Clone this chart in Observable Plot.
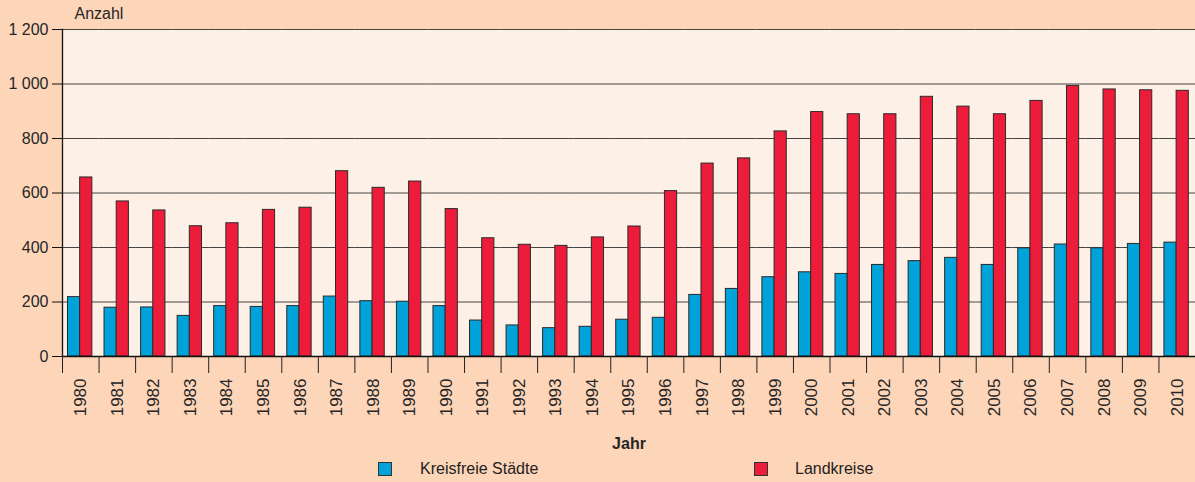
<!DOCTYPE html>
<html>
<head>
<meta charset="utf-8">
<script src="https://cdn.jsdelivr.net/npm/d3@7"></script>
<script src="https://cdn.jsdelivr.net/npm/@observablehq/plot@0.6"></script>
<style>
  html, body { margin: 0; padding: 0; background: #fdd5b9; }
  body { width: 1195px; height: 482px; overflow: hidden; font-family: "Liberation Sans", Arial, sans-serif; }
  #legend { position: relative; height: 27px; width: 1195px; }
  .sw { position: absolute; top: 7px; width: 12px; height: 12px; border: 1px solid #333; }
  .lb { position: absolute; top: 5px; font-size: 16px; line-height: 18px; color: #222; }
</style>
</head>
<body>
<div id="chart"></div>
<div id="legend"></div>
<script>
const years = [1980, 1981, 1982, 1983, 1984, 1985, 1986, 1987, 1988, 1989, 1990,
               1991, 1992, 1993, 1994, 1995, 1996, 1997, 1998, 1999, 2000,
               2001, 2002, 2003, 2004, 2005, 2006, 2007, 2008, 2009, 2010];
const seriesNames = ["Kreisfreie Städte", "Landkreise"];
const kreisfreieStaedte = [218, 179, 180, 149, 185, 182, 185, 220, 203, 201, 185,
                           132, 114, 104, 109, 135, 142, 226, 248, 291, 309,
                           303, 336, 350, 362, 336, 397, 411, 397, 413, 418];
const landkreise = [657, 569, 536, 478, 489, 538, 546, 680, 619, 642, 541,
                    434, 410, 406, 437, 477, 607, 708, 727, 826, 897,
                    889, 889, 953, 917, 889, 938, 993, 980, 977, 975];
const yTicks = [0, 200, 400, 600, 800, 1000, 1200];
const seriesColors = ["#00a3d9", "#ed1c3b"];

const data = [];
years.forEach((yr, i) => {
  data.push({year: yr, series: seriesNames[0], value: kreisfreieStaedte[i]});
  data.push({year: yr, series: seriesNames[1], value: landkreise[i]});
});

const W = 1195, H = 455, mL = 62, mR = 0, mT = 29, mB = 99;
const halfBand = (W - mL - mR) / years.length / 2;
const fmtY = d => d3.format(",")(d).replace(/,/g, " ");

const chart = Plot.plot({
  width: W, height: H,
  marginLeft: mL, marginRight: mR, marginTop: mT, marginBottom: mB,
  style: {background: "transparent", fontFamily: "Liberation Sans, Arial, sans-serif", fontSize: "15px", color: "#262626"},
  fx: {domain: years, paddingInner: 0, paddingOuter: 0, round: false, label: null},
  x: {domain: seriesNames, paddingInner: 0, paddingOuter: 0.5, align: 0.45, round: false, axis: null},
  y: {domain: [0, 1200], label: null},
  color: {domain: seriesNames, range: seriesColors},
  marks: [
    Plot.frame({fill: "#fdf0e6", stroke: null, facet: "super"}),
    Plot.gridY(yTicks, {stroke: "#444", strokeOpacity: 1, strokeWidth: 1}),
    Plot.barY(data, {fx: "year", x: "series", y: "value", fill: "series", stroke: "#2a2a2a", strokeWidth: 1}),
    Plot.ruleY([0], {stroke: "#111", strokeWidth: 1.3}),
    Plot.frame({anchor: "left", facetAnchor: "left", stroke: "#111", strokeWidth: 1.3}),
    Plot.axisY(yTicks, {tickSize: 10, tickPadding: 4, tickFormat: fmtY, fontSize: 16, label: null, stroke: "#111"}),
    Plot.axisFx({anchor: "bottom", tickSize: 17, tickFormat: () => "", dx: -halfBand, label: null, stroke: "#222"}),
    Plot.axisFx({anchor: "bottom", tickSize: 0, tickRotate: -90, tickPadding: 22, tickFormat: d => String(d), fontSize: 17, label: null}),
    Plot.text(["Anzahl"], {frameAnchor: "top-left", dx: 12, dy: -16, lineAnchor: "middle", textAnchor: "start", fontSize: 16, facet: "super"}),
    Plot.text(["Jahr"], {frameAnchor: "bottom", dy: 87, lineAnchor: "middle", fontSize: 16, fontWeight: "bold", facet: "super"})
  ]
});
document.getElementById("chart").appendChild(chart);

const legend = document.getElementById("legend");
const legendPos = [[378, 420], [754, 795]];
seriesNames.forEach((name, i) => {
  const sw = document.createElement("div");
  sw.className = "sw";
  sw.style.left = legendPos[i][0] + "px";
  sw.style.background = seriesColors[i];
  legend.appendChild(sw);
  const lb = document.createElement("div");
  lb.className = "lb";
  lb.style.left = legendPos[i][1] + "px";
  lb.textContent = name;
  legend.appendChild(lb);
});
</script>
</body>
</html>
